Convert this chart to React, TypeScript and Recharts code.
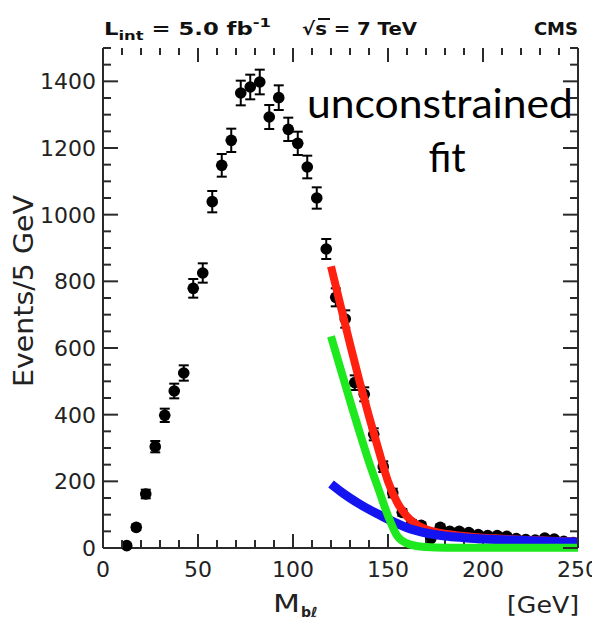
import React from "react";
import { ComposedChart, XAxis, YAxis, Scatter, Line, ErrorBar } from "recharts";

// M_bl distribution, events per 5 GeV bin (bin centres)
const massBins = [
  12.5, 17.5, 22.5, 27.5, 32.5, 37.5, 42.5, 47.5, 52.5, 57.5, 62.5, 67.5,
  72.5, 77.5, 82.5, 87.5, 92.5, 97.5, 102.5, 107.5, 112.5, 117.5, 122.5, 127.5,
  132.5, 137.5, 142.5, 147.5, 152.5, 157.5, 162.5, 167.5, 172.5, 177.5, 182.5, 187.5,
  192.5, 197.5, 202.5, 207.5, 212.5, 217.5, 222.5, 227.5, 232.5, 237.5, 242.5, 247.5,
];
const eventCounts = [
  7, 62, 162, 304, 398, 471, 525, 779, 825, 1039, 1148, 1223,
  1365, 1383, 1398, 1293, 1351, 1256, 1214, 1143, 1050, 897, 752, 687,
  496, 461, 341, 244, 165, 107, 75, 68, 28, 62, 50, 50,
  46, 40, 37, 37, 35, 28, 25, 24, 30, 27, 20, 16,
];
const eventErrors = [
  3, 8, 13, 17, 20, 22, 23, 28, 29, 32, 34, 35,
  37, 37, 37, 36, 37, 35, 35, 34, 32, 30, 27, 26,
  22, 21, 18, 16, 13, 10, 9, 8, 5, 8, 7, 7,
  7, 6, 6, 6, 6, 5, 5, 5, 5, 5, 4, 4,
];

// fit curves (red / green / blue)
const redMass = [120, 125, 130, 135, 140, 145, 150, 155, 160, 165, 170, 175, 180, 190, 200, 210, 220, 230, 240, 250];
const redValues = [845, 728, 612, 500, 395, 295, 200, 135, 95, 70, 56, 48, 43, 36, 31, 28, 25, 23, 21, 19];

const greenMass = [120, 125, 130, 135, 140, 145, 150, 155, 160, 165, 170, 180, 200, 250];
const greenValues = [635, 538, 442, 348, 258, 177, 97, 35, 14, 6, 3, 1, 1, 1];

const blueMass = [120, 125, 130, 135, 140, 145, 150, 155, 160, 165, 170, 180, 190, 200, 210, 220, 230, 240, 250];
const blueValues = [192, 170, 150, 132, 116, 101, 86, 73, 61, 52, 45, 36, 31, 27, 25, 23, 21, 19, 18];

const xTicks = [0, 10, 20, 30, 40, 50, 60, 70, 80, 90, 100, 110, 120, 130, 140, 150, 160, 170, 180, 190, 200, 210, 220, 230, 240, 250];
const yTicks = [
  0, 50, 100, 150, 200, 250, 300, 350, 400, 450, 500, 550, 600, 650, 700, 750,
  800, 850, 900, 950, 1000, 1050, 1100, 1150, 1200, 1250, 1300, 1350, 1400, 1450, 1500,
];

const points = massBins.map((x, i) => ({ x, y: eventCounts[i], err: eventErrors[i] }));
const toSeries = (xs: number[], ys: number[]) => xs.map((x, i) => ({ x, y: ys[i] }));
const redFit = toSeries(redMass, redValues);
const greenFit = toSeries(greenMass, greenValues);
const blueFit = toSeries(blueMass, blueValues);

const AXIS = "#2a2a2a";
const FONT = "'DejaVu Sans', sans-serif";

function BottomTick({ x, y, payload }: any) {
  const v = payload.value;
  const major = v % 50 === 0;
  return (
    <g>
      <line x1={x} x2={x} y1={y} y2={y - (major ? 14 : 8)} stroke={AXIS} strokeWidth={2} />
      {major && (
        <text x={x} y={y + 29} textAnchor="middle" fontSize={22} fontFamily={FONT} fill="#222">
          {v}
        </text>
      )}
    </g>
  );
}

function TopTick({ x, y, payload }: any) {
  const major = payload.value % 50 === 0;
  return <line x1={x} x2={x} y1={y} y2={y + (major ? 14 : 7)} stroke={AXIS} strokeWidth={2} />;
}

function LeftTick({ x, y, payload }: any) {
  const v = payload.value;
  const major = v % 200 === 0;
  return (
    <g>
      <line x1={x} x2={x + (major ? 15 : 8)} y1={y} y2={y} stroke={AXIS} strokeWidth={2} />
      {major && (
        <text x={x - 7} y={y} dy="0.36em" textAnchor="end" fontSize={22} fontFamily={FONT} fill="#222">
          {v}
        </text>
      )}
    </g>
  );
}

function RightTick({ x, y, payload }: any) {
  const major = payload.value % 200 === 0;
  return <line x1={x} x2={x - (major ? 15 : 8)} y1={y} y2={y} stroke={AXIS} strokeWidth={2} />;
}

const Dot = (props: any) => <circle cx={props.cx} cy={props.cy} r={5.8} fill="#000" />;

const layer: React.CSSProperties = { position: "absolute", left: 0, top: 0 };

export default function App() {
  return (
    <div style={{ position: "absolute", left: 0, top: 0, width: 592, height: 623, overflow: "hidden", background: "#fff" }}>
      {/* base layer: bottom/left axes and the data points */}
      <div style={layer}>
        <ComposedChart width={592} height={623} margin={{ top: 48, right: 14, bottom: 0, left: 0 }}>
          <XAxis
            dataKey="x"
            type="number"
            domain={[0, 250]}
            ticks={xTicks}
            interval={0}
            height={75}
            tickSize={0}
            tickMargin={0}
            tickLine={false}
            axisLine={{ stroke: AXIS, strokeWidth: 2 }}
            tick={<BottomTick />}
          />
          <YAxis
            dataKey="y"
            type="number"
            domain={[0, 1500]}
            ticks={yTicks}
            interval={0}
            width={103}
            tickSize={0}
            tickMargin={0}
            tickLine={false}
            axisLine={{ stroke: AXIS, strokeWidth: 2 }}
            tick={<LeftTick />}
          />
          <Scatter data={points} dataKey="y" shape={Dot} isAnimationActive={false}>
            <ErrorBar dataKey="err" direction="y" width={5} stroke="#000" strokeWidth={2} isAnimationActive={false} />
          </Scatter>
        </ComposedChart>
      </div>

      {/* top layer: fit curves drawn over the points, plus top/right axes */}
      <div style={layer}>
        <ComposedChart width={592} height={623} margin={{ top: 47, right: 13, bottom: 75, left: 103 }}>
          <XAxis
            orientation="top"
            dataKey="x"
            type="number"
            domain={[0, 250]}
            ticks={xTicks}
            interval={0}
            height={1}
            tickSize={0}
            tickMargin={0}
            tickLine={false}
            axisLine={false}
            tick={<TopTick />}
          />
          <YAxis
            orientation="right"
            dataKey="y"
            type="number"
            domain={[0, 1500]}
            ticks={yTicks}
            interval={0}
            width={1}
            tickSize={0}
            tickMargin={0}
            tickLine={false}
            axisLine={{ stroke: AXIS, strokeWidth: 2 }}
            tick={<RightTick />}
          />
          <Line data={redFit} dataKey="y" type="monotone" stroke="#ff2010" strokeWidth={8} dot={false} isAnimationActive={false} />
          <Line data={blueFit} dataKey="y" type="monotone" stroke="#1414f0" strokeWidth={9} dot={false} isAnimationActive={false} />
          <Line data={greenFit} dataKey="y" type="monotone" stroke="#1ee81e" strokeWidth={8} dot={false} isAnimationActive={false} />
        </ComposedChart>
      </div>

      <svg width={592} height={623} style={{ ...layer, pointerEvents: "none" }}>
        <text x={104} y={35} fontFamily={FONT} fontWeight="bold" fontSize={18} fill="#111" textLength={167} lengthAdjust="spacingAndGlyphs">
          L<tspan fontSize={13} dy={5}>int</tspan>
          <tspan dy={-5}> = 5.0 fb</tspan>
          <tspan fontSize={13} dy={-8}>-1</tspan>
        </text>
        <text x={302} y={35} fontFamily={FONT} fontWeight="bold" fontSize={18} fill="#111" textLength={115} lengthAdjust="spacingAndGlyphs">
          √s = 7 TeV
        </text>
        <line x1={318} x2={330} y1={19} y2={19} stroke="#111" strokeWidth={2} />
        <text x={578} y={35} textAnchor="end" fontFamily={FONT} fontWeight="bold" fontSize={18} fill="#111">
          CMS
        </text>

        <text x={440} y={118} textAnchor="middle" fontFamily="Lato, sans-serif" fontSize={40} fill="#000" textLength={266} lengthAdjust="spacingAndGlyphs">
          unconstrained
        </text>
        <text x={447} y={172} textAnchor="middle" fontFamily="Lato, sans-serif" fontSize={40} fill="#000">
          fit
        </text>

        <text
          x={33}
          y={291}
          transform="rotate(-90 33 291)"
          textAnchor="middle"
          fontFamily={FONT}
          fontSize={26}
          fill="#222"
          textLength={192}
          lengthAdjust="spacingAndGlyphs"
        >
          Events/5 GeV
        </text>

        <text x={273} y={612} fontFamily={FONT} fontSize={24} fill="#222" textLength={27} lengthAdjust="spacingAndGlyphs">
          M
        </text>
        <text x={301} y={617} fontFamily={FONT} fontSize={14} fontWeight="bold" fill="#222">
          bℓ
        </text>
        <text x={579} y={613} textAnchor="end" fontFamily={FONT} fontSize={23} fill="#222" textLength={72} lengthAdjust="spacingAndGlyphs">
          [GeV]
        </text>
      </svg>
    </div>
  );
}
